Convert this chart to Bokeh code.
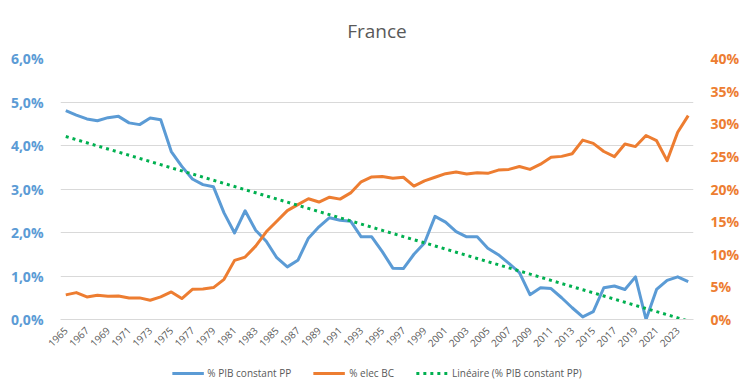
import numpy as np
from bokeh.plotting import figure
from bokeh.layouts import column
from bokeh.models import (Range1d, LinearAxis, FixedTicker, Legend, LegendItem,
                          ColumnDataSource)
from bokeh.embed import file_html
from bokeh.resources import INLINE

# ---------------- data ----------------
years = list(range(1965, 2025))
pib_pct = [4.80, 4.70, 4.61, 4.57, 4.64, 4.67, 4.52, 4.48, 4.63, 4.59,
           3.86, 3.52, 3.23, 3.10, 3.05, 2.45, 1.99, 2.50, 2.05, 1.80,
           1.42, 1.21, 1.36, 1.87, 2.13, 2.34, 2.28, 2.26, 1.90, 1.90,
           1.56, 1.18, 1.17, 1.50, 1.76, 2.37, 2.24, 2.02, 1.90, 1.90,
           1.64, 1.49, 1.29, 1.08, 0.57, 0.73, 0.71, 0.50, 0.27, 0.06,
           0.18, 0.73, 0.77, 0.69, 0.98, 0.00, 0.69, 0.90, 0.98, 0.87]
elec_pct = [3.77, 4.12, 3.46, 3.72, 3.56, 3.61, 3.31, 3.31, 2.95, 3.46,
            4.22, 3.21, 4.63, 4.68, 4.89, 6.16, 9.06, 9.57, 11.25, 13.44,
            15.06, 16.69, 17.6, 18.5, 18.0, 18.75, 18.45, 19.4, 21.1, 21.85,
            21.9, 21.65, 21.8, 20.45, 21.25, 21.8, 22.35, 22.6, 22.3, 22.5,
            22.4, 22.9, 23.0, 23.45, 23.0, 23.8, 24.85, 25.0, 25.4, 27.5,
            27.0, 25.75, 24.95, 26.9, 26.5, 28.2, 27.4, 24.35, 28.7, 31.25]
left_ticks = [0, 1, 2, 3, 4, 5, 6]
left_tick_labels = ["0,0%", "1,0%", "2,0%", "3,0%", "4,0%", "5,0%", "6,0%"]
right_ticks = [0, 5, 10, 15, 20, 25, 30, 35, 40]
right_tick_labels = ["0%", "5%", "10%", "15%", "20%", "25%", "30%", "35%", "40%"]
x_ticks = years[::2]
series_names = ["% PIB constant PP", "% elec BC", "Linéaire (% PIB constant PP)"]
title_text = "France"

# linear trend (regression of the PIB series, like Excel's trendline)
slope, intercept = np.polyfit(np.array(years, dtype=float), np.array(pib_pct), 1)
trend = [slope * y + intercept for y in years]

BLUE = "#5B9BD5"
ORANGE = "#ED7D31"
GREEN = "#00B050"
GRAY_TXT = "#595959"
GRID = "#D9D9D9"
FONT = "Open Sans"

src = ColumnDataSource(dict(x=years, pib=pib_pct, elec=elec_pct, trend=trend))

MAIN_H = 355
LEG_H = 35

p = figure(width=750, height=MAIN_H, output_backend="svg", toolbar_location=None,
           x_range=Range1d(1964.5, 2024.5), y_range=Range1d(0, 6),
           min_border_left=60, min_border_right=57, min_border_top=57,
           min_border_bottom=MAIN_H - 57 - 262, title=title_text)
p.extra_y_ranges = {"right": Range1d(0, 40)}

p.title.align = "center"
p.title.text_font = FONT
p.title.text_font_size = "19px"
p.title.text_font_style = "normal"
p.title.text_color = GRAY_TXT
p.title.standoff = 30

p.outline_line_color = None
p.background_fill_color = "white"
p.border_fill_color = "white"

# grid
p.xgrid.grid_line_color = None
p.ygrid.ticker = FixedTicker(ticks=left_ticks)
p.ygrid.grid_line_color = GRID
p.ygrid.grid_line_width = 1

# left axis
la = p.yaxis[0]
la.ticker = FixedTicker(ticks=left_ticks)
la.major_label_overrides = {t: s for t, s in zip(left_ticks, left_tick_labels)}
la.axis_line_color = None
la.major_tick_line_color = None
la.minor_tick_line_color = None
la.major_tick_out = 0
la.minor_tick_out = 0
la.major_label_standoff = 17
la.major_label_text_color = BLUE
la.major_label_text_font = FONT
la.major_label_text_font_size = "14px"
la.major_label_text_font_style = "bold"

# right axis
ra = LinearAxis(y_range_name="right", ticker=FixedTicker(ticks=right_ticks))
ra.major_label_overrides = {t: s for t, s in zip(right_ticks, right_tick_labels)}
ra.axis_line_color = None
ra.major_tick_line_color = None
ra.minor_tick_line_color = None
ra.major_tick_out = 0
ra.minor_tick_out = 0
ra.major_label_standoff = 17
ra.major_label_text_color = ORANGE
ra.major_label_text_font = FONT
ra.major_label_text_font_size = "14px"
ra.major_label_text_font_style = "bold"
p.add_layout(ra, "right")

# bottom axis
xa = p.xaxis[0]
xa.ticker = FixedTicker(ticks=x_ticks)
xa.axis_line_color = GRID
xa.major_tick_line_color = None
xa.minor_tick_line_color = None
xa.major_tick_out = 0
xa.minor_tick_out = 0
xa.major_label_orientation = np.pi / 4
xa.major_label_standoff = 9
xa.major_label_text_color = GRAY_TXT
xa.major_label_text_font = FONT
xa.major_label_text_font_size = "10px"

# lines
line_styles = [dict(line_color=BLUE, line_width=3, line_join="round"),
               dict(line_color=ORANGE, line_width=3, line_join="round"),
               dict(line_color=GREEN, line_width=3, line_dash="3 4")]
r_pib = p.line("x", "pib", source=src, **line_styles[0])
r_elec = p.line("x", "elec", source=src, y_range_name="right", **line_styles[1])
r_trend = p.line("x", "trend", source=src, **line_styles[2])

# ---- legend strip (separate figure below the chart) ----
lf = figure(width=750, height=LEG_H, output_backend="svg", toolbar_location=None,
            x_range=Range1d(0, 1), y_range=Range1d(0, 1),
            x_axis_location=None, y_axis_location=None, min_border=0)
lf.grid.grid_line_color = None
lf.outline_line_color = None
lf.background_fill_color = "white"
lf.border_fill_color = "white"
# legend proxies share the same data; they fall outside this strip's ranges
l_pib = lf.line("x", "pib", source=src, **line_styles[0])
l_elec = lf.line("x", "elec", source=src, **line_styles[1])
l_trend = lf.line("x", "trend", source=src, **line_styles[2])

legend = Legend(items=[LegendItem(label=series_names[0], renderers=[l_pib]),
                       LegendItem(label=series_names[1], renderers=[l_elec]),
                       LegendItem(label=series_names[2], renderers=[l_trend])],
                orientation="horizontal", location="center")
legend.label_text_font = FONT
legend.label_text_font_size = "10px"
legend.label_text_color = GRAY_TXT
legend.glyph_width = 32
legend.glyph_height = 20
legend.label_height = 20
legend.label_standoff = 4
legend.spacing = 22
legend.padding = 0
legend.margin = 0
legend.border_line_color = None
legend.background_fill_alpha = 0
lf.add_layout(legend, "center")

layout = column(p, lf, spacing=0)
open("out.html", "w").write(file_html(layout, INLINE))
